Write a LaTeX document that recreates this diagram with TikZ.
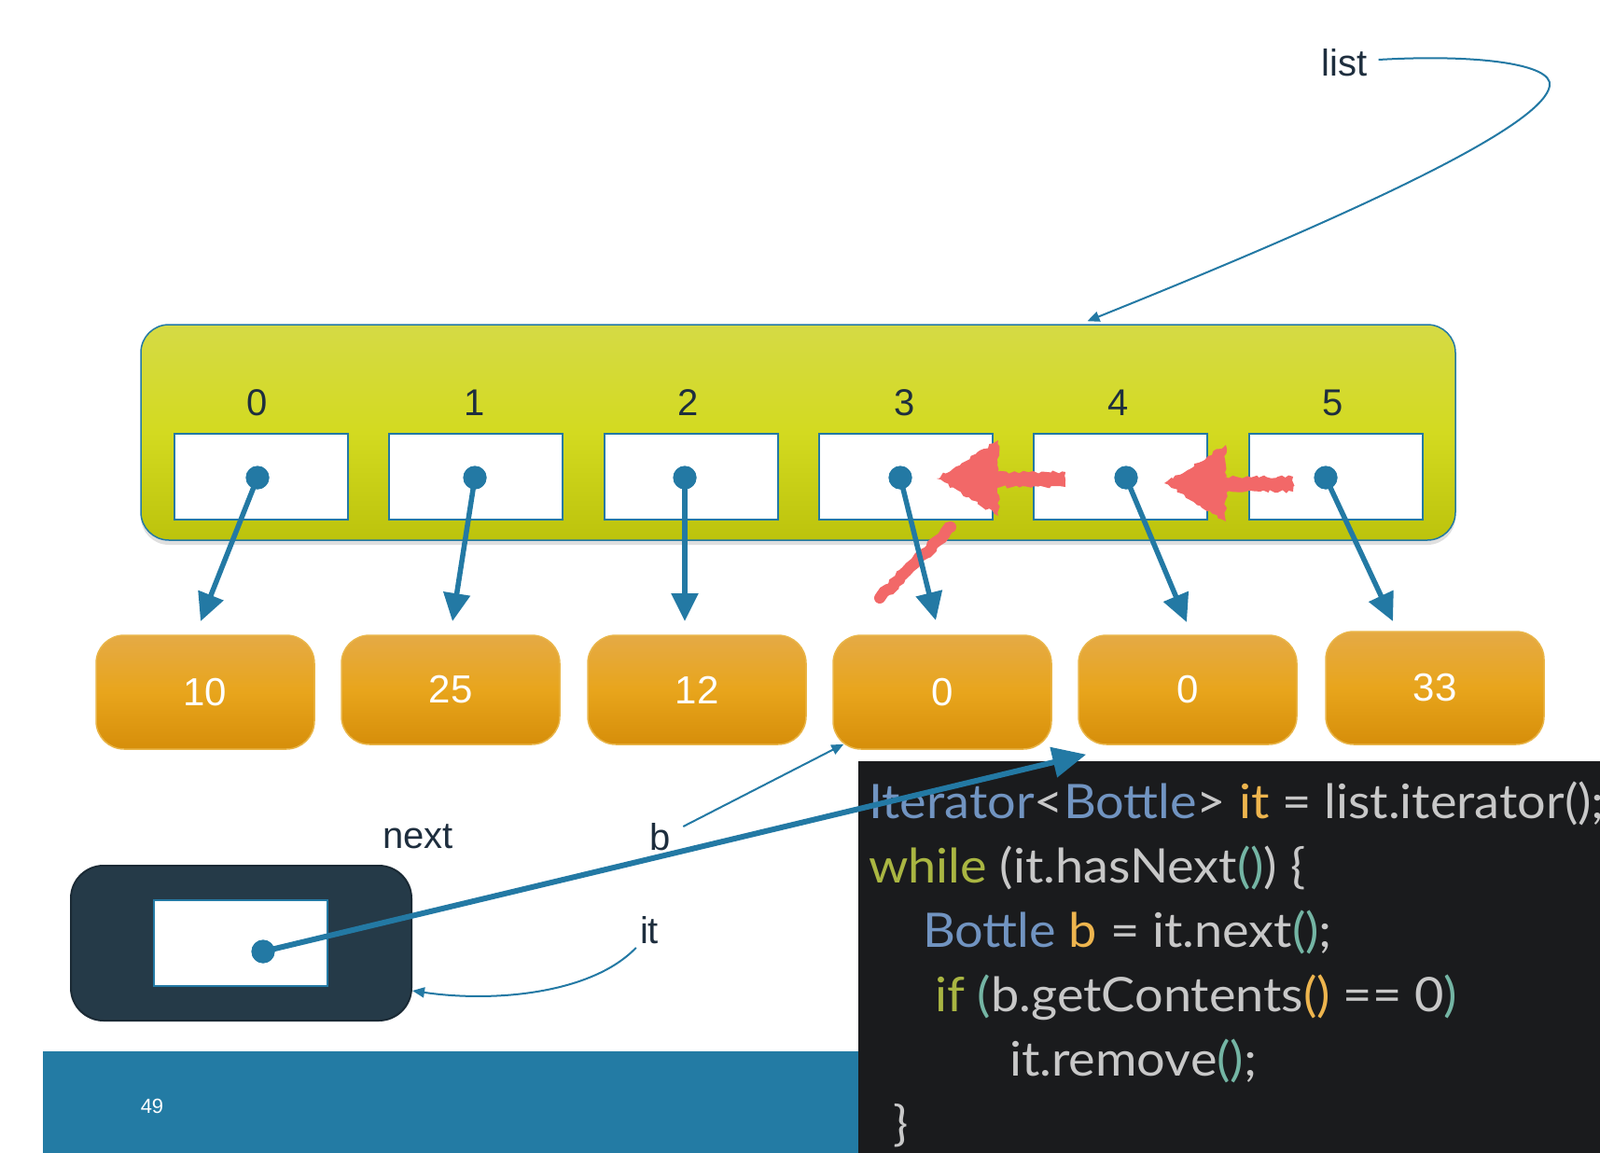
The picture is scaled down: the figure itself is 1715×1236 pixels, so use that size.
\documentclass[tikz,border=0pt]{standalone}
\usepackage{fontspec}
\setmainfont{Liberation Sans}
\newfontfamily\codefont[FakeStretch=1.06]{Lato}
\usetikzlibrary{arrows.meta,calc,shadows,decorations.pathmorphing}
\definecolor{lineblue}{HTML}{2379A4}
\definecolor{labelc}{HTML}{1E2E3E}
\definecolor{ytop}{HTML}{D5DA45}
\definecolor{ymid}{HTML}{D3DA20}
\definecolor{ybot}{HTML}{BCC30C}
\definecolor{orangetop}{HTML}{E5AA45}
\definecolor{orangemid}{HTML}{E8A51C}
\definecolor{orangebot}{HTML}{D68E0A}
\definecolor{orangeedge}{HTML}{E9B548}
\definecolor{darkbox}{HTML}{253A48}
\definecolor{darkedge}{HTML}{1B2A35}
\definecolor{codebg}{HTML}{1A1B1D}
\definecolor{footer}{HTML}{237BA4}
\definecolor{redc}{HTML}{F26868}
\definecolor{cblue}{HTML}{7194C1}
\definecolor{corange}{HTML}{EEB54E}
\definecolor{cgray}{HTML}{C8C8C8}
\definecolor{colive}{HTML}{AAB642}
\definecolor{cteal}{HTML}{74B5A4}
\begin{document}
\begin{tikzpicture}[x=1pt,y=-1pt,
  lbl/.style={text=labelc, font=\fontsize{40}{48}\selectfont, inner sep=4pt},
  cellbox/.style={draw=lineblue, line width=2.5pt, fill=white, minimum width=186pt, minimum height=92pt, inner sep=0pt},
  valbox/.style={rounded corners=30pt, draw=orangeedge, line width=1.5pt, top color=orangetop, bottom color=orangebot, middle color=orangemid, minimum width=234pt, text=white, font=\fontsize{42}{50}\selectfont, inner sep=0pt},
  dotnode/.style={circle, fill=lineblue, minimum size=25pt, inner sep=0pt},
  ptr/.style={draw=lineblue, line width=5.5pt, -{Triangle[length=30pt,width=28pt]}},
  thinptr/.style={draw=lineblue, line width=2pt, -{Triangle[length=13pt,width=11pt]}},
  codeline/.style={anchor=base west, inner sep=0pt, font=\codefont\fontsize{51}{60}\selectfont},
  rough/.style={decorate, decoration={random steps, segment length=4pt, amplitude=1.8pt}}
]
\useasboundingbox (0,0) rectangle (1715,1236);
\fill[white] (0,0) rectangle (1715,1236);

% footer and code panel
\fill[footer] (46,1127) rectangle (921,1236);
\node[text=white, font=\fontsize{22}{26}\selectfont, inner sep=0pt] (pg) at (163,1186) {49};
\fill[codebg] (920,816) rectangle (1715,1236);

% array container
\node[draw=lineblue, line width=1.5pt, rounded corners=30pt, top color=ytop, bottom color=ybot, middle color=ymid,
  minimum width=1409pt, minimum height=231pt, inner sep=0pt,
  drop shadow={shadow xshift=0pt, shadow yshift=-5pt, opacity=0.25}] (arr) at (855.5,463.5) {};

% index labels
\foreach \i/\x in {0/276,1/509,2/738,3/970,4/1199,5/1429}{
  \node[lbl] (i\i) at (\x,432) {\i};
}
% cells
\foreach \i/\x in {0/280,1/510,2/741,3/971,4/1201,5/1432}{
  \node[cellbox] (c\i) at (\x,511) {};
}

% value boxes
\node[valbox, minimum height=122pt] (v0) at (220,742) {10};
\node[valbox, minimum height=117pt] (v1) at (483,739.5) {25};
\node[valbox, minimum height=117pt] (v2) at (747,739.5) {12};
\node[valbox, minimum height=122pt] (v3) at (1010,742) {0};
\node[valbox, minimum height=117pt] (v4) at (1273,739.5) {0};
\node[valbox, minimum height=121pt] (v5) at (1538,737.5) {33};

% red marks
\fill[redc, rough] (1060,506) rectangle (1142,522);
\fill[redc, rough] (1004,513) -- (1070,472) -- (1070,553) -- cycle;
\fill[redc, rough] (1306,511) rectangle (1386,527);
\fill[redc, rough] (1248,518) -- (1314,477) -- (1314,559) -- cycle;
\draw[redc, line width=12pt, line cap=round, rough] (943,641) -- (1019,565);

% dots
\foreach \i/\x in {0/276,1/509,2/734,3/965,4/1207,5/1421}{
  \node[dotnode] (d\i) at (\x,512) {};
}
% arrow tips
\coordinate (t0) at (215,666);
\coordinate (t1) at (485,666);
\coordinate (t2) at (734,666);
\coordinate (t3) at (1003,665);
\coordinate (t4) at (1272,667);
\coordinate (t5) at (1493,666);
\foreach \i in {0,...,5}{
  \draw[ptr] (d\i.center) -- (t\i);
}
\foreach \i in {0,...,5}{
  \node[dotnode] at (d\i) {};
}

% list label
\node[lbl] (list) at (1441,67) {list};
\draw[thinptr] ($(list.east)+(8,-3)$) .. controls (1580,58) and (1665,68) .. (1661,92)
  .. controls (1655,130) and (1500,210) .. ($(arr.north)+(310,-3)$);

% iterator object
\node[fill=darkbox, draw=darkedge, line width=2pt, rounded corners=35pt, minimum width=365pt, minimum height=166pt, inner sep=0pt] (itbox) at (258.5,1011) {};
\node[cellbox] (itcell) at (258,1011) {};
\node[dotnode] (itdot) at (282,1020) {};

\node[lbl] (next) at (448,897) {next};
\node[lbl] (blbl) at (708,897) {b};
\node[lbl] (itlbl) at (696,997) {it};

\draw[thinptr] ($(blbl.east)+(9,-11)$) -- ($(v3.south west)+(12,-6)$);
\draw[thinptr] (itlbl.south west) .. controls (635,1065) and (530,1075) .. ($(itbox.east)+(0,51)$);

% code
\node[codeline] (l1) at (931,877) {\textcolor{cblue}{Iterator}\textcolor{cgray}{<}\textcolor{cblue}{Bottle}\textcolor{cgray}{>} \textcolor{corange}{it} \textcolor{cgray}{= list.iterator();}};
\node[codeline] (l2) at (931,946) {\textcolor{colive}{while} \textcolor{cgray}{(it.hasNext}\textcolor{cteal}{()}\textcolor{cgray}{) \{}};
\node[codeline] (l3) at (989,1015) {\textcolor{cblue}{Bottle} \textcolor{corange}{b} \textcolor{cgray}{= it.next}\textcolor{cteal}{()}\textcolor{cgray}{;}};
\node[codeline] (l4) at (1002,1084) {\textcolor{colive}{if} \textcolor{cteal}{(}\textcolor{cgray}{b.getContents}\textcolor{corange}{()}\textcolor{cgray}{\ == 0}\textcolor{cteal}{)}};
\node[codeline] (l5) at (1082,1153) {\textcolor{cgray}{it.remove}\textcolor{cteal}{()}\textcolor{cgray}{;}};
\node[codeline] (l6) at (957,1222) {\textcolor{cgray}{\}}};

% thick iterator pointer
\draw[draw=lineblue, line width=6pt, -{Triangle[length=36pt,width=32pt]}] (itdot.center) -- ($(v4.south west)+(9,10)$);
\node[dotnode] at (itdot) {};
\end{tikzpicture}
\end{document}
